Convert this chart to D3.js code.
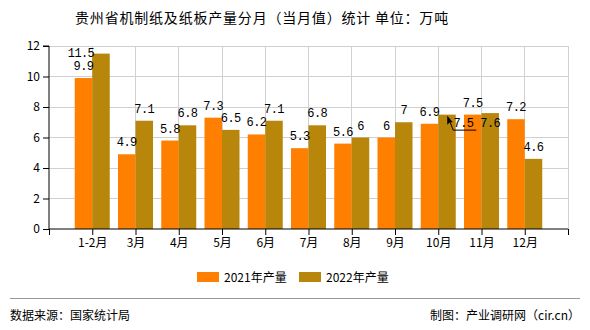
<!DOCTYPE html>
<html><head><meta charset="utf-8">
<script src="https://cdn.jsdelivr.net/npm/d3@7"></script>
<style>
body{margin:0;background:#fff;}
svg{display:block;font-family:"Noto Sans CJK SC","Noto Sans",sans-serif;}
</style></head>
<body><svg id="c" width="590" height="330"></svg>
<script>
const categories = ["1-2月","3月","4月","5月","6月","7月","8月","9月","10月","11月","12月"];
const values2021 = [9.9,4.9,5.8,7.3,6.2,5.3,5.6,6,6.9,7.5,7.2];
const values2022 = [11.5,7.1,6.8,6.5,7.1,6.8,6,7,7.5,7.6,4.6];
const yTicks = [0,2,4,6,8,10,12];
const seriesNames = ["2021年产量","2022年产量"];
const colors = ["#FF8000","#B8860B"];
// label nudges (series, index) -> [dx, dy] for collided labels
const labelNudge = {"1-0":[-20,11.5],"1-8":[16.5,20.5],"1-9":[0,22]};

const svg = d3.select("#c");
const L=49,R=568,T=46,B=229;
const x = d3.scaleLinear().domain([0,12]).range([L,R]);
const y = d3.scaleLinear().domain([0,12]).range([B,T]);
const bw = 17.5;

svg.append("text").attr("x",262).attr("y",23).attr("text-anchor","middle")
  .attr("font-size",14).attr("letter-spacing",0.8).attr("fill","#000").text("贵州省机制纸及纸板产量分月（当月值）统计 单位：万吨");

const g = svg.append("g");
// grid
g.selectAll(".hg").data(yTicks.filter(d=>d>0)).join("line")
  .attr("x1",L).attr("x2",R).attr("y1",d=>y(d)).attr("y2",d=>y(d))
  .attr("stroke","#d0d0d0").attr("stroke-width",1).attr("shape-rendering","crispEdges");
g.selectAll(".vg").data(d3.range(1,13)).join("line")
  .attr("x1",d=>x(d)).attr("x2",d=>x(d)).attr("y1",T).attr("y2",B)
  .attr("stroke","#d0d0d0").attr("stroke-width",1).attr("shape-rendering","crispEdges");

const series = [values2021, values2022];
series.forEach((vals,s)=>{
  g.selectAll(".b"+s).data(vals).join("rect")
    .attr("x",(d,i)=> s===0 ? x(i+1)-bw : x(i+1))
    .attr("width",bw)
    .attr("y",d=>y(d)).attr("height",d=>B-y(d))
    .attr("fill",colors[s]);
});

// axes
const xa = svg.append("g").attr("transform",`translate(0,${B})`)
  .call(d3.axisBottom(x).tickValues(d3.range(0,13)).tickSize(6)
    .tickFormat(d=> d>=1 && d<=11 ? categories[d-1] : ""));
xa.selectAll("text").attr("font-size",12).attr("fill","#000").attr("font-family","Noto Sans CJK SC");
const ya = svg.append("g").attr("transform",`translate(${L},0)`)
  .call(d3.axisLeft(y).tickValues(yTicks).tickSize(6));
ya.selectAll("text").attr("font-size",12).attr("fill","#000").attr("font-family","Noto Sans CJK SC");
[xa,ya].forEach(a=>{a.selectAll("path,line").attr("stroke","#000");a.select(".domain").attr("stroke","#000");});
ya.select(".domain").attr("d",`M-6,${T}H0V${B}`);
xa.select(".domain").attr("d",`M${L},0H${R}`);

// value labels
series.forEach((vals,s)=>{
  vals.forEach((v,i)=>{
    const n = labelNudge[s+"-"+i]||[0,0];
    const cx = s===0 ? x(i+1)-bw/2 : x(i+1)+bw/2;
    svg.append("text").attr("x",cx+n[0]).attr("y",y(v)-8+n[1])
      .attr("text-anchor","middle").attr("font-size",12).attr("fill","#000")
      .attr("font-family","Liberation Mono, DejaVu Sans Mono, monospace")
      .attr("letter-spacing",-0.6)
      .text(String(v));
  });
});
// leader line for the displaced 10月 2022 label
{
  const cx = x(9), yt = y(values2022[8]);
  svg.append("polyline")
    .attr("points",`${cx+10},${yt+3} ${cx+15},${yt+15.5} ${cx+38},${yt+15.5}`)
    .attr("fill","none").attr("stroke","#000").attr("stroke-width",1);
  svg.append("path")
    .attr("d",`M${cx+9},${yt+1} l0,9 l2.5,-2.5 l3,0 z`).attr("fill","#000");
}

// legend
const lg = svg.append("g");
[[197,224],[299,326]].forEach((p,s)=>{
  lg.append("rect").attr("x",p[0]).attr("y",272).attr("width",22).attr("height",10).attr("fill",colors[s]);
  lg.append("text").attr("x",p[1]).attr("y",282).attr("font-size",12).attr("fill","#000").text(seriesNames[s]);
});

// footer
svg.append("line").attr("x1",10).attr("x2",580).attr("y1",298.5).attr("y2",298.5)
  .attr("stroke","#999").attr("stroke-width",1);
svg.append("text").attr("x",10).attr("y",320).attr("font-size",12).attr("fill","#000").text("数据来源：国家统计局");
svg.append("text").attr("x",580).attr("y",320).attr("text-anchor","end").attr("font-size",12).attr("fill","#000").text("制图：产业调研网（cir.cn）");
</script></body></html>
